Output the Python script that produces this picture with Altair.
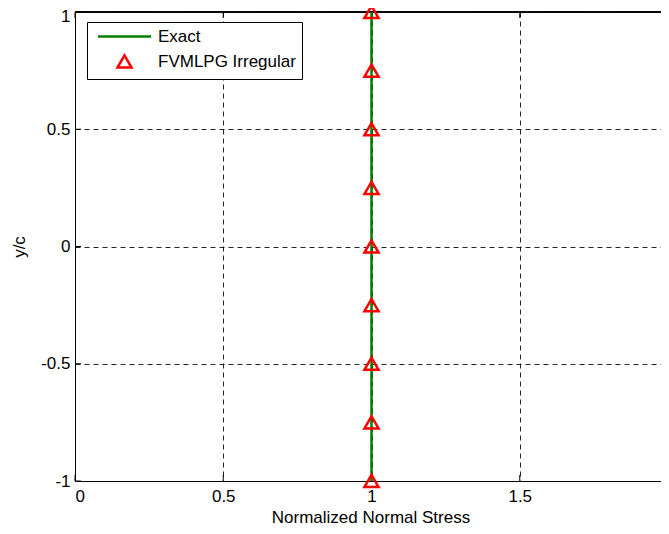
import altair as alt
import pandas as pd

# ---- data ----
exact_x = [1.0, 1.0]
exact_y = [-1.0, 1.0]
fv_x = [1.0, 1.0, 1.0, 1.0, 1.0, 1.0, 1.0, 1.0, 1.0]
fv_y = [-1.0, -0.75, -0.5, -0.25, 0.0, 0.25, 0.5, 0.75, 1.0]
series_names = ["Exact", "FVMLPG Irregular"]
series_colors = ["#008000", "#ff0000"]
x_ticks = [0, 0.5, 1, 1.5, 2]
y_ticks = [-1, -0.5, 0, 0.5, 1]

# the reference's plot frame runs past the right edge of the picture (x = 2 sits at the cut)
FULL_W = 593          # pixel width that x in [0, 2] spans
W, H = 586, 469       # visible part of the plot area
X_MAX_VISIBLE = 2.0 * W / FULL_W
FONT = "Liberation Sans"
FS = 17

exact_df = pd.DataFrame({"x": exact_x, "y": exact_y})
fv_df = pd.DataFrame({"x": fv_x, "y": fv_y, "series": ["FVMLPG Irregular"] * len(fv_x)})
xt_df = pd.DataFrame({"v": x_ticks})
yt_df = pd.DataFrame({"v": y_ticks})

xs = alt.Scale(domain=[0, X_MAX_VISIBLE], nice=False, zero=False)
ys = alt.Scale(domain=[-1, 1], nice=False, zero=False)

x_axis = alt.Axis(values=x_ticks, grid=True, gridColor="black", gridDash=[5, 4], gridWidth=1,
                  gridOpacity=0.85, ticks=False, domainColor="black", labelFont=FONT, labelFontSize=FS,
                  labelColor="black", labelPadding=7, labelExpr="datum.value + ''",
                  title="Normalized Normal Stress", titleFont=FONT, titleFontSize=FS,
                  titleFontWeight="normal", titleColor="black", titlePadding=5, titleX=FULL_W / 2 - 1)
y_axis = alt.Axis(values=y_ticks, grid=True, gridColor="black", gridDash=[5, 4], gridWidth=1,
                  gridOpacity=0.85, ticks=False, domainColor="black", labelFont=FONT, labelFontSize=FS,
                  labelColor="black", labelPadding=5, labelExpr="datum.value + ''",
                  labelOffset={"expr": "datum.value == 1 ? 4 : 0"},
                  title="y/c", titleFont=FONT, titleFontSize=FS, titleFontWeight="normal",
                  titleColor="black", titlePadding=12)

base_line = alt.Chart(exact_df).mark_line(color="#008000", strokeWidth=2.5).encode(
    x=alt.X("x:Q", scale=xs, axis=x_axis),
    y=alt.Y("y:Q", scale=ys, axis=y_axis),
)

legend = alt.Legend(orient="none", legendX=12, legendY=10, title=None,
                    strokeColor="black", fillColor="white", padding=6,
                    labelFont=FONT, labelFontSize=FS, labelColor="black",
                    labelExpr="datum.label + '   '",
                    symbolSize=200, symbolStrokeWidth=2.5, symbolOffset=23, labelOffset=25,
                    rowPadding=5, cornerRadius=0)

points = alt.Chart(fv_df).mark_point(filled=False, strokeWidth=2.5, size=200, opacity=1).encode(
    x=alt.X("x:Q", scale=xs),
    y=alt.Y("y:Q", scale=ys),
    color=alt.Color("series:N", scale=alt.Scale(domain=series_names, range=series_colors), legend=legend),
    shape=alt.Shape("series:N", scale=alt.Scale(domain=series_names, range=["M-3.75,0L3.75,0", "triangle-up"]), legend=legend),
)

tick_style = dict(color="black", strokeWidth=1)
bottom_ticks = alt.Chart(xt_df).mark_rule(**tick_style).encode(
    x=alt.X("v:Q", scale=xs), y=alt.value(H), y2=alt.value(H - 6))
top_ticks = alt.Chart(xt_df).mark_rule(**tick_style).encode(
    x=alt.X("v:Q", scale=xs), y=alt.value(0), y2=alt.value(6))
left_ticks = alt.Chart(yt_df).mark_rule(**tick_style).encode(
    y=alt.Y("v:Q", scale=ys), x=alt.value(0), x2=alt.value(6))
top_frame = alt.Chart(xt_df).mark_rule(color="black", strokeWidth=1).encode(
    x=alt.value(0), x2=alt.value(W), y=alt.value(0))

chart = alt.layer(top_frame, bottom_ticks, top_ticks, left_ticks, base_line, points).properties(
    width=W, height=H,
    autosize=alt.AutoSizeParams(type="none"),
    padding={"left": 67, "top": 4, "right": 0, "bottom": 45},
    background="white",
).configure_view(stroke=None)

chart.save("out.html", embed_options={"renderer": "svg", "actions": False})
